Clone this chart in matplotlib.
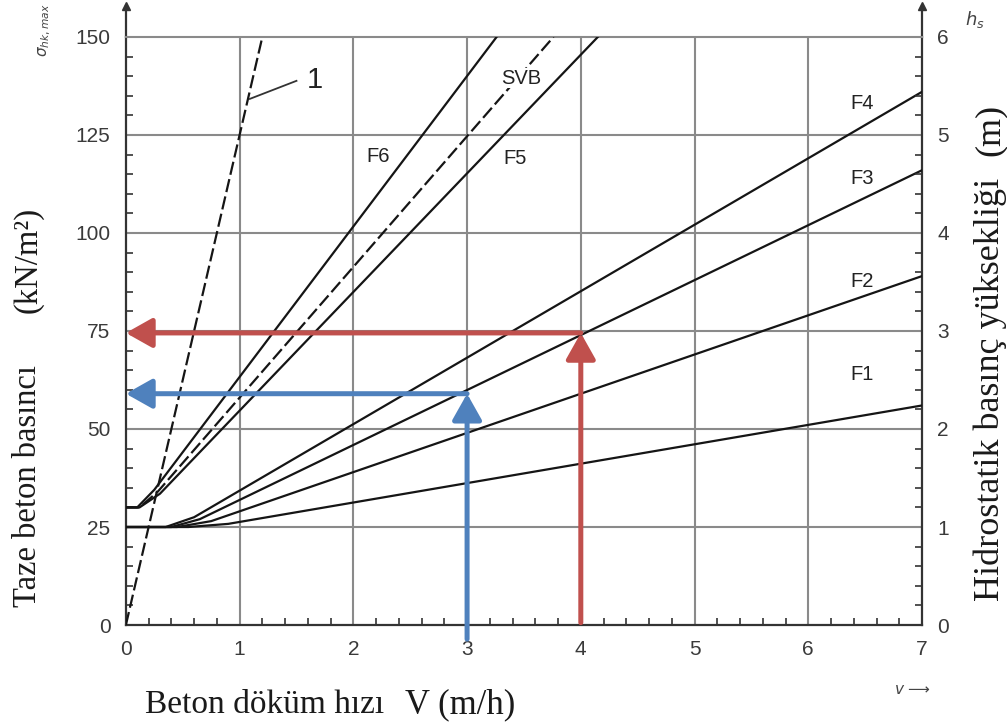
import matplotlib
matplotlib.use("Agg")
import matplotlib.pyplot as plt
from matplotlib.lines import Line2D
from matplotlib.ticker import MultipleLocator

# ---- data ----
F1_x = [0, 0.55, 0.9, 7.0];   F1_y = [25, 25, 25.8, 56]
F2_x = [0, 0.45, 0.75, 7.0];  F2_y = [25, 25, 26.5, 89]
F3_x = [0, 0.40, 0.65, 7.0];  F3_y = [25, 25, 27.0, 116]
F4_x = [0, 0.35, 0.60, 7.0];  F4_y = [25, 25, 27.5, 136]
F5_x = [0, 0.12, 0.30, 4.15]; F5_y = [30, 30, 33.5, 150]
F6_x = [0, 0.10, 0.25, 3.26]; F6_y = [30, 30, 34.5, 150]
SVB_x = [0, 0.12, 0.28, 3.76]; SVB_y = [30, 30, 34.0, 150]
L1_x = [0, 1.2];              L1_y = [0, 150]

curve_labels = ["F1", "F2", "F3", "F4", "F5", "F6", "SVB"]
label_pos = {"F1": (6.47, 63.8), "F2": (6.47, 87.5), "F3": (6.47, 114),
             "F4": (6.47, 133), "F5": (3.42, 119), "F6": (2.22, 119.4),
             "SVB": (3.48, 139.5)}

x_ticks = [0, 1, 2, 3, 4, 5, 6, 7]
y_ticks = [0, 25, 50, 75, 100, 125, 150]
h_ticks = [0, 1, 2, 3, 4, 5, 6]

red_v, red_p = 4, 74.5
blue_v, blue_p = 3, 59

RED = "#C0504D"
BLUE = "#4F81BD"
GRID = "#8a8a8a"
DARK = "#333333"
TICKC = "#3a3a3a"
TXT = "#1a1a1a"

fig = plt.figure(figsize=(10.07, 7.24), dpi=100)
ax = fig.add_axes([0.125, 0.1367, 0.7906, 0.8123])
ax.set_xlim(0, 7)
ax.set_ylim(0, 150)

# grid
for xv in x_ticks[1:-1]:
    ax.axvline(xv, color=GRID, lw=1.5, zorder=1)
for yv in y_ticks[1:-1]:
    ax.axhline(yv, color=GRID, lw=1.5, zorder=1)

# curves
series = {"F1": (F1_x, F1_y), "F2": (F2_x, F2_y), "F3": (F3_x, F3_y),
          "F4": (F4_x, F4_y), "F5": (F5_x, F5_y), "F6": (F6_x, F6_y),
          "SVB": (SVB_x, SVB_y)}
for name, (xs, ys) in series.items():
    ls = (0, (6, 2)) if name == "SVB" else "-"
    ax.plot(xs, ys, color="#151515", lw=1.6, ls=ls, zorder=3,
            solid_joinstyle="round")
    lx, ly = label_pos[name]
    bbox = dict(fc="white", ec="none", pad=0.5) if name == "SVB" else None
    ax.text(lx, ly, name, fontsize=14.5, family="Liberation Sans",
            color="#222222", ha="center", va="center", zorder=4, bbox=bbox)

ax.plot(L1_x, L1_y, color="#151515", lw=1.6, ls=(0, (6, 2)), zorder=3)
ax.plot([1.09, 1.5], [134.2, 138.8], color="#333333", lw=1.3, zorder=3)
ax.text(1.66, 139, "1", fontsize=21, family="Liberation Sans",
        color="#222222", ha="center", va="center", zorder=4)

# spines
for s in ["left", "bottom", "right"]:
    ax.spines[s].set_color(DARK)
    ax.spines[s].set_linewidth(1.6)
ax.spines["top"].set_color(GRID)
ax.spines["top"].set_linewidth(1.5)
for xa in (0, 1):
    ax.add_line(Line2D([xa, xa], [1, 1.052], transform=ax.transAxes,
                       color=DARK, lw=1.6, clip_on=False))
    ax.plot([xa], [1.052], marker="^", ms=6, color=DARK,
            transform=ax.transAxes, clip_on=False)

# ticks
ax.set_xticks(x_ticks)
ax.set_yticks(y_ticks)
ax.xaxis.set_minor_locator(MultipleLocator(0.2))
ax.yaxis.set_minor_locator(MultipleLocator(5))
ax.tick_params(which="both", direction="in", colors=DARK, width=1.2)
ax.tick_params(which="major", length=0, pad=11, labelsize=15, labelcolor=TICKC)
ax.tick_params(which="minor", length=5)
ax.tick_params(axis="x", which="both", top=False)
for lab in ax.get_xticklabels() + ax.get_yticklabels():
    lab.set_family("Liberation Sans")

ax2 = ax.twinx()
ax2.set_ylim(0, 6)
ax2.set_yticks(h_ticks)
ax2.yaxis.set_minor_locator(MultipleLocator(0.2))
ax2.tick_params(which="both", direction="in", colors=DARK, width=1.2)
ax2.tick_params(which="major", length=0, pad=11, labelsize=15, labelcolor=TICKC)
ax2.tick_params(which="minor", length=5)
for s in ax2.spines.values():
    s.set_visible(False)
for lab in ax2.get_yticklabels():
    lab.set_family("Liberation Sans")

# arrows
def arrow(x0, y0, x1, y1, c):
    ax.annotate("", xy=(x1, y1), xytext=(x0, y0),
                arrowprops=dict(arrowstyle="-|>,head_length=0.8,head_width=0.45",
                                color=c, lw=3.6, shrinkA=0, shrinkB=0,
                                mutation_scale=20),
                zorder=6, annotation_clip=False)

arrow(red_v, red_p, 0, red_p, RED)
arrow(red_v, 0.6, red_v, red_p, RED)
arrow(blue_v, blue_p, 0, blue_p, BLUE)
arrow(blue_v, -3.6, blue_v, blue_p, BLUE)

# axis titles
def ftxt(px, py, s, **kw):
    fig.text(px / 1007, 1 - py / 724, s, family="Liberation Serif",
             color=TXT, **kw)

ftxt(28, 486, "Taze beton basıncı", rotation=90, ha="center", va="center",
     fontsize=23.5)
ftxt(28, 260, "(kN/m²)", rotation=90, ha="center", va="center",
     fontsize=23.5)
ftxt(990, 389, "Hidrostatik basınç yüksekliği", rotation=90, ha="center",
     va="center", fontsize=26)
ftxt(990, 130, "(m)", rotation=90, ha="center", va="center", fontsize=26)
ftxt(145, 705, "Beton döküm hızı", ha="left", va="center", fontsize=24)
ftxt(405, 705, "V (m/h)", ha="left", va="center", fontsize=25)

fig.text(45 / 1007, 1 - 30 / 724, r"$\sigma_{hk,max}$", rotation=90,
         ha="center", va="center", fontsize=11, color="#444444")
fig.text(975 / 1007, 1 - 20 / 724, r"$h_s$", ha="center", va="center",
         fontsize=13, color="#444444")
fig.text(912 / 1007, 1 - 690 / 724, r"$v$ ⟶", ha="center", va="center",
         fontsize=11, color="#444444")

fig.savefig("out.png", dpi=100)
